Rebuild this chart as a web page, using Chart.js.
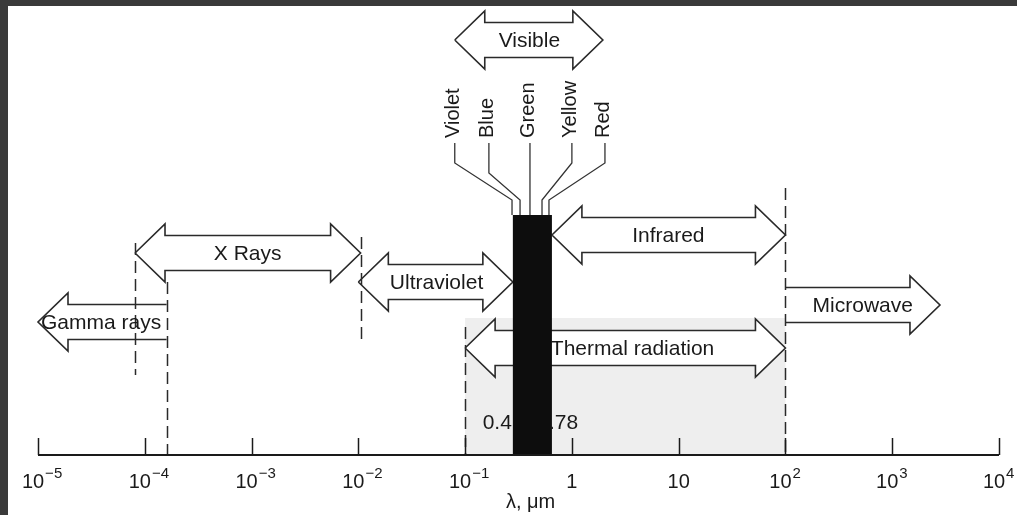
<!DOCTYPE html>
<html><head><meta charset="utf-8">
<script src="https://cdn.jsdelivr.net/npm/chart.js@4.4.0/dist/chart.umd.min.js"></script>
<style>html,body{margin:0;padding:0;background:#3a3a3a;overflow:hidden}canvas{display:block}</style>
</head><body><canvas id="c" width="1017" height="515"></canvas>
<script>
// ---- data (wavelength in micrometres; level = height above the axis) ----
const tickExponents = [-5, -4, -3, -2, -1, 0, 1, 2, 3, 4];
const bandNames  = ['Visible', 'X Rays', 'Gamma rays', 'Ultraviolet', 'Infrared', 'Microwave', 'Thermal radiation'];
const bandFrom   = [0.080, 8.1e-5, 1e-5, 0.01, 0.65, 100, 0.1];
const bandTo     = [1.95, 0.0105, 1.6e-4, 0.28, 100, 2800, 100];
const bandLevel  = [415, 202, 133, 173, 220, 150, 107];
const bandHeads  = ['both', 'both', 'left', 'both', 'both', 'right', 'both'];
const bandLabelLambda = [0.40, 9.2e-4, 1.3e-5 * 3, 0.054, 8.0, 530, 3.7];
const visibleBand = [0.28, 0.65];
const visibleTop = 240;
const shadedBand = [0.1, 100];
const shadedTop = 137;
const boundaryLambda = [8.1e-5, 1.6e-4, 0.0105, 0.1, 100];
const boundaryTop    = [212, 173, 218, 128, 267];
const boundaryBottom = [80, 0, 113, 0, 0];
const colorNames       = ['Violet', 'Blue', 'Green', 'Yellow', 'Red'];
const colorLabelLambda = [0.080, 0.167, 0.405, 1.0, 2.04];
const colorBendLevel   = [292, 282, 292, 292, 292];
const colorEntryLambda = [0.275, 0.327, 0.405, 0.525, 0.61];
const colorLabelLevel = 317, colorLineTop = 312, colorEntryLevel = 255;
const rangeLabels = ['0.4', '.78'];
const rangeLabelLevel = 32;
const axisTitle = 'λ, μm';
const axisTitleLambda = 0.41;

// ---- styles ----
const INK = '#1a1a1a';
const FONT = '"Liberation Sans", Arial, sans-serif';
const SH = 17.5, HH = 29, HL = 30;

function arrow(ctx, xa, xb, yc, heads) {
  const pts = [];
  if (heads === 'both') {
    pts.push([xa, yc], [xa + HL, yc - HH], [xa + HL, yc - SH], [xb - HL, yc - SH], [xb - HL, yc - HH], [xb, yc],
             [xb - HL, yc + HH], [xb - HL, yc + SH], [xa + HL, yc + SH], [xa + HL, yc + HH], [xa, yc]);
  } else if (heads === 'left') {
    pts.push([xb, yc + SH], [xa + HL, yc + SH], [xa + HL, yc + HH], [xa, yc], [xa + HL, yc - HH], [xa + HL, yc - SH], [xb, yc - SH]);
  } else {
    pts.push([xa, yc - SH], [xb - HL, yc - SH], [xb - HL, yc - HH], [xb, yc], [xb - HL, yc + HH], [xb - HL, yc + SH], [xa, yc + SH]);
  }
  ctx.beginPath();
  pts.forEach((p, i) => i ? ctx.lineTo(p[0], p[1]) : ctx.moveTo(p[0], p[1]));
  ctx.closePath();
  ctx.fillStyle = '#ffffff';
  ctx.fill();
  ctx.beginPath();
  pts.forEach((p, i) => i ? ctx.lineTo(p[0], p[1]) : ctx.moveTo(p[0], p[1]));
  ctx.strokeStyle = '#2a2a2a';
  ctx.lineWidth = 1.6;
  ctx.setLineDash([]);
  ctx.stroke();
}

const diagram = {
  id: 'diagram',
  beforeDraw(chart) {
    const ctx = chart.ctx;
    ctx.save();
    ctx.fillStyle = '#3a3a3a';
    ctx.fillRect(0, 0, chart.width, chart.height);
    ctx.fillStyle = '#ffffff';
    ctx.fillRect(8, 6, chart.width - 8, chart.height - 6);
    ctx.restore();
  },
  afterDraw(chart) {
    const { ctx } = chart;
    const X = chart.scales.x, Y = chart.scales.y;
    const px = v => X.getPixelForValue(v);
    const py = v => Y.getPixelForValue(v);
    ctx.save();

    // shaded thermal region
    ctx.fillStyle = '#eeeeee';
    ctx.fillRect(px(shadedBand[0]), py(shadedTop), px(shadedBand[1]) - px(shadedBand[0]), py(0) - py(shadedTop));

    // arrows
    for (let i = 0; i < bandNames.length; i++) {
      arrow(ctx, px(bandFrom[i]), px(bandTo[i]), py(bandLevel[i]), bandHeads[i]);
    }

    // dashed boundary lines
    ctx.strokeStyle = '#2a2a2a';
    ctx.lineWidth = 1.5;
    ctx.setLineDash([12, 6]);
    for (let i = 0; i < boundaryLambda.length; i++) {
      const xx = Math.round(px(boundaryLambda[i])) + 0.5;
      ctx.beginPath();
      ctx.moveTo(xx, py(boundaryTop[i]));
      ctx.lineTo(xx, py(boundaryBottom[i]));
      ctx.stroke();
    }
    ctx.setLineDash([]);

    // visible bar (drawn before labels so text after the bar stays clear)
    ctx.fillStyle = '#0d0d0d';
    ctx.fillRect(px(visibleBand[0]), py(visibleTop), px(visibleBand[1]) - px(visibleBand[0]), py(0) - py(visibleTop));

    // band labels
    ctx.fillStyle = INK;
    ctx.font = '21px ' + FONT;
    ctx.textAlign = 'center';
    ctx.textBaseline = 'middle';
    for (let i = 0; i < bandNames.length; i++) {
      ctx.fillText(bandNames[i], px(bandLabelLambda[i]), py(bandLevel[i]) + 1);
    }

    // range labels
    ctx.textAlign = 'right';
    ctx.fillText(rangeLabels[0], px(visibleBand[0]) - 1, py(rangeLabelLevel));
    ctx.textAlign = 'left';
    ctx.fillText(rangeLabels[1], px(visibleBand[1]) - 3, py(rangeLabelLevel));

    // colour leader lines
    ctx.strokeStyle = '#333333';
    ctx.lineWidth = 1.3;
    for (let i = 0; i < colorNames.length; i++) {
      ctx.beginPath();
      ctx.moveTo(px(colorLabelLambda[i]), py(colorLineTop));
      ctx.lineTo(px(colorLabelLambda[i]), py(colorBendLevel[i]));
      ctx.lineTo(px(colorEntryLambda[i]), py(colorEntryLevel));
      ctx.lineTo(px(colorEntryLambda[i]), py(visibleTop));
      ctx.stroke();
    }
    // rotated colour labels
    ctx.fillStyle = INK;
    ctx.font = '20px ' + FONT;
    ctx.textAlign = 'left';
    ctx.textBaseline = 'middle';
    for (let i = 0; i < colorNames.length; i++) {
      ctx.save();
      ctx.translate(px(colorLabelLambda[i]) - 1, py(colorLabelLevel));
      ctx.rotate(-Math.PI / 2);
      ctx.fillText(colorNames[i], 0, 0);
      ctx.restore();
    }

    // axis line + ticks
    const y0 = py(0);
    ctx.strokeStyle = '#1a1a1a';
    ctx.lineWidth = 2;
    ctx.beginPath();
    ctx.moveTo(px(Math.pow(10, tickExponents[0])), y0);
    ctx.lineTo(px(Math.pow(10, tickExponents[tickExponents.length - 1])), y0);
    ctx.stroke();
    ctx.lineWidth = 1.5;
    tickExponents.forEach(e => {
      const xx = Math.round(px(Math.pow(10, e))) + 0.5;
      ctx.beginPath();
      ctx.moveTo(xx, y0);
      ctx.lineTo(xx, y0 - 17);
      ctx.stroke();
    });

    // tick labels
    ctx.fillStyle = INK;
    ctx.textBaseline = 'alphabetic';
    tickExponents.forEach(e => {
      const xx = px(Math.pow(10, e));
      if (e === 0 || e === 1) {
        ctx.font = '20px ' + FONT;
        ctx.textAlign = 'center';
        ctx.fillText(e === 0 ? '1' : '10', xx, y0 + 33);
      } else {
        ctx.font = '20px ' + FONT;
        const bw = ctx.measureText('10').width;
        ctx.textAlign = 'left';
        const x0 = xx - 5 - bw / 2;
        ctx.fillText('10', x0, y0 + 33);
        ctx.font = '15px ' + FONT;
        ctx.fillText(e < 0 ? '\u2212' + (-e) : String(e), x0 + bw + 1, y0 + 23);
      }
    });
    // axis title
    ctx.font = '20px ' + FONT;
    ctx.textAlign = 'center';
    ctx.fillText(axisTitle, px(axisTitleLambda), y0 + 53);
    ctx.restore();
  }
};

new Chart(document.getElementById('c'), {
  type: 'scatter',
  data: { datasets: [{ data: [], showLine: false }] },
  options: {
    responsive: false,
    animation: false,
    devicePixelRatio: 1,
    layout: { padding: { left: 38, right: 18, top: 5, bottom: 60 } },
    plugins: { legend: { display: false }, tooltip: { enabled: false } },
    scales: {
      x: { type: 'logarithmic', min: 1e-5, max: 1e4, display: false },
      y: { type: 'linear', min: 0, max: 450, display: false }
    }
  },
  plugins: [diagram]
});
</script>
</body></html>
